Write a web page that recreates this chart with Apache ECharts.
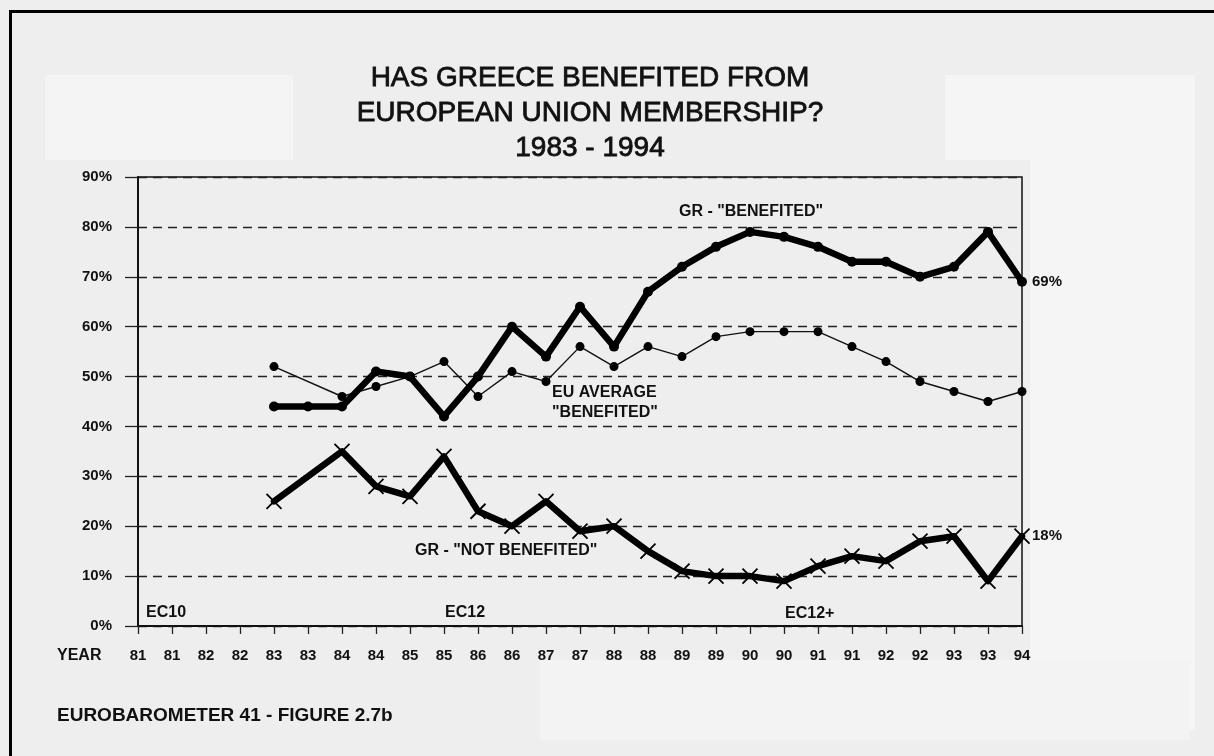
<!DOCTYPE html>
<html>
<head>
<meta charset="utf-8">
<script src="https://cdn.jsdelivr.net/npm/echarts@6/dist/echarts.min.js"></script>
<style>
html,body{margin:0;padding:0;background:#eeeeee;}
#chart{width:1214px;height:756px;}
</style>
</head>
<body>
<div id="chart"></div>
<script>
// ---- data ----
var years = ['81','81','82','82','83','83','84','84','85','85','86','86','87','87','88','88','89','89','90','90','91','91','92','92','93','93','94'];
var grBenefited = [null,null,null,null,44,44,44,51,50,42,50,60,54,64,56,67,72,76,79,78,76,73,73,70,72,79,69];
var euAverage   = [null,null,null,null,52,null,46,48,50,53,46,51,49,56,52,56,54,58,59,59,59,56,53,49,47,45,47];
var grNotBenefited = [null,null,null,null,25,null,35,28,26,34,23,20,25,19,20,15,11,10,10,9,12,14,13,17,18,9,18];
var yTicks = [0,10,20,30,40,50,60,70,80,90];

var FONT = '"Liberation Sans", Arial, sans-serif';
var chart = echarts.init(document.getElementById('chart'), null, {renderer:'canvas'});

function txt(x, y, text, size, opts) {
  opts = opts || {};
  return {
    type: 'text', x: x, y: y, z: 50,
    style: {
      text: text, fill: '#111', font: (opts.weight || 'bold') + ' ' + size + 'px ' + FONT,
      textAlign: opts.align || 'left', textVerticalAlign: opts.valign || 'middle',
      lineHeight: opts.lineHeight,
      stroke: opts.stroke ? '#111' : null, lineWidth: opts.stroke || 0
    }
  };
}

var option = {
  backgroundColor: '#eeeeee',
  animation: false,
  grid: { left: 138, top: 177, right: 192, bottom: 130, show: true, borderColor: '#111', borderWidth: 1.5, backgroundColor: 'transparent' },
  xAxis: {
    type: 'category', data: years, boundaryGap: false,
    axisLine: { show: true, lineStyle: { color: '#111', width: 2 } },
    axisTick: { show: true, interval: 0, length: 8, lineStyle: { color: '#222', width: 1.3 } },
    axisLabel: { interval: 0, margin: 22, color: '#111', fontFamily: FONT, fontWeight: 'bold', fontSize: 15 },
    splitLine: { show: false }
  },
  yAxis: {
    type: 'value', min: yTicks[0], max: yTicks[yTicks.length - 1], interval: 10,
    axisLine: { show: true, lineStyle: { color: '#111', width: 2 } },
    axisTick: { show: true, length: 13, lineStyle: { color: '#222', width: 1.3 } },
    axisLabel: { margin: 26, color: '#111', fontFamily: FONT, fontWeight: 'bold', fontSize: 15, formatter: '{value}%' },
    splitLine: { show: true, lineStyle: { color: '#222', width: 1.4, type: [9, 6] } }
  },
  series: [
    {
      name: 'GR benefited', type: 'line', data: grBenefited, z: 5,
      symbol: 'circle', symbolSize: 10, showAllSymbol: true,
      lineStyle: { color: '#000', width: 6.5, join: 'round', cap: 'round' },
      itemStyle: { color: '#000' },
      endLabel: { show: true, distance: 10, color: '#111', fontFamily: FONT, fontWeight: 'bold', fontSize: 15,
        formatter: function (p) { return p.value + '%'; } }
    },
    {
      name: 'EU average', type: 'line', data: euAverage, connectNulls: true, z: 4,
      symbol: 'circle', symbolSize: 9, showAllSymbol: true,
      lineStyle: { color: '#111', width: 1.4 },
      itemStyle: { color: '#000' }
    },
    {
      name: 'GR not benefited', type: 'line', data: grNotBenefited, connectNulls: true, z: 5,
      symbol: 'path://M0,0L10,10M10,0L0,10', symbolSize: 15, showAllSymbol: true,
      lineStyle: { color: '#000', width: 6.5, join: 'round', cap: 'round' },
      itemStyle: { color: '#000', borderColor: '#000', borderWidth: 1.8 },
      endLabel: { show: true, distance: 10, color: '#111', fontFamily: FONT, fontWeight: 'bold', fontSize: 15,
        formatter: function (p) { return p.value + '%'; } }
    }
  ],
  graphic: [
    { type: 'rect', z: -10, shape: { x: 45, y: 75, width: 248, height: 85 }, style: { fill: '#f4f4f4' } },
    { type: 'rect', z: -10, shape: { x: 945, y: 75, width: 250, height: 85 }, style: { fill: '#f5f5f5' } },
    { type: 'rect', z: -10, shape: { x: 1030, y: 160, width: 165, height: 570 }, style: { fill: '#f5f5f5' } },
    { type: 'rect', z: -10, shape: { x: 540, y: 660, width: 650, height: 80 }, style: { fill: '#f3f3f3' } },
    { type: 'rect', z: 60, shape: { x: 10.5, y: 11.5, width: 1210, height: 760 }, style: { fill: 'none', stroke: '#000', lineWidth: 3 } },
    txt(590, 61, 'HAS GREECE BENEFITED FROM\nEUROPEAN UNION MEMBERSHIP?\n1983 - 1994', 28, { weight: 'normal', align: 'center', valign: 'top', lineHeight: 35, stroke: 0.8 }),
    txt(751, 212, 'GR - "BENEFITED"', 16, { align: 'center' }),
    txt(552, 393, 'EU AVERAGE', 16),
    txt(552, 413, '"BENEFITED"', 16),
    txt(415, 551, 'GR - "NOT BENEFITED"', 16),
    txt(146, 613, 'EC10', 16),
    txt(445, 613, 'EC12', 16),
    txt(785, 614, 'EC12+', 16),
    txt(57, 656, 'YEAR', 16),
    txt(57, 716, 'EUROBAROMETER 41 - FIGURE 2.7b', 19)
  ]
};
chart.setOption(option);
</script>
</body>
</html>
